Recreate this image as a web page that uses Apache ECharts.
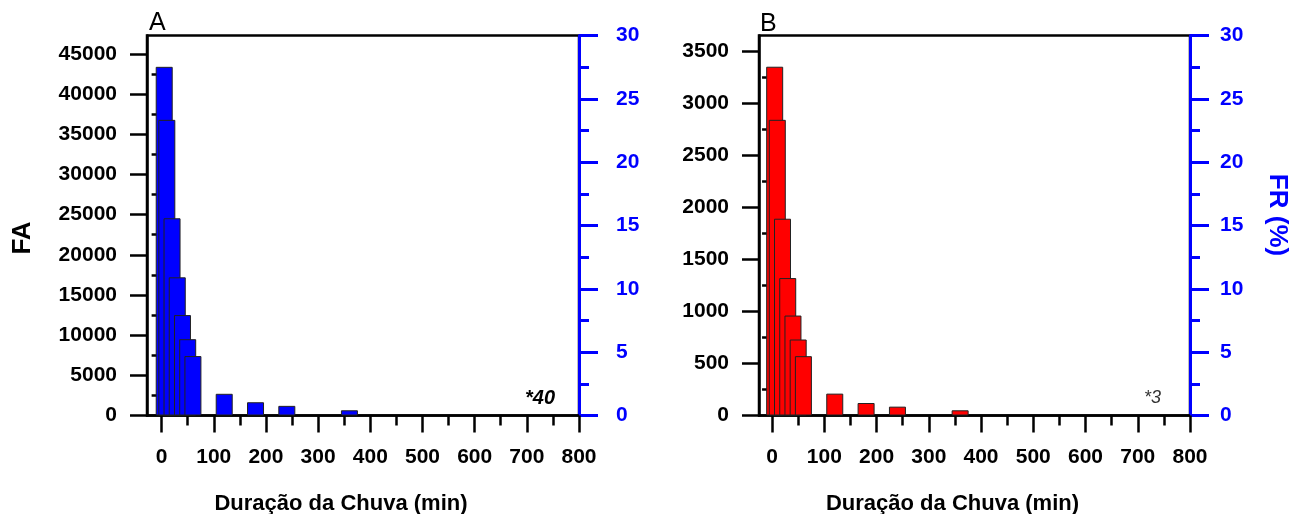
<!DOCTYPE html>
<html>
<head>
  <meta charset="utf-8">
  <script src="https://cdn.jsdelivr.net/npm/echarts@6/dist/echarts.min.js"></script>
</head>
<style>
  html, body { margin: 0; padding: 0; background: #fff; }
  #main { width: 1296px; height: 514px; }
</style>
<body>
  <div id="main"></div>
  <script>
    // duração da chuva (min) - centro das classes
    var duracao = [5, 10, 20, 30, 40, 50, 60, 120, 180, 240, 360];
    // frequência absoluta - painel A
    var faA = [43400, 36800, 24550, 17200, 12500, 9500, 7400, 2700, 1650, 1200, 650];
    // frequência absoluta - painel B
    var faB = [3350, 2840, 1890, 1320, 960, 730, 570, 210, 120, 85, 50];

    // eixos
    var xTicks = [0, 100, 200, 300, 400, 500, 600, 700, 800];
    var xMinor = [50, 150, 250, 350, 450, 550, 650, 750];
    var faTicksA = [0, 5000, 10000, 15000, 20000, 25000, 30000, 35000, 40000, 45000];
    var faMinorA = [2500, 7500, 12500, 17500, 22500, 27500, 32500, 37500, 42500];
    var faTicksB = [0, 500, 1000, 1500, 2000, 2500, 3000, 3500];
    var faMinorB = [250, 750, 1250, 1750, 2250, 2750, 3250];
    var frTicks = [0, 5, 10, 15, 20, 25, 30];

    var font = "'Liberation Sans', Arial, sans-serif";
    var black = '#000';
    var blue = '#0000ff';

    var chart = echarts.init(document.getElementById('main'));

    function pairs(ys) {
      return duracao.map(function (d, i) { return [d, ys[i]]; });
    }
    function plain(v) { return String(v); }

    function xAxes(grid, xmin) {
      return [{
        gridIndex: grid, type: 'value', position: 'bottom', min: xmin, max: 800,
        name: 'Duração da Chuva (min)', nameLocation: 'middle', nameGap: 77,
        nameTextStyle: { fontFamily: font, fontWeight: 'bold', fontSize: 22, color: black, padding: [0, 44, 0, 0] },
        axisLine: { show: true, onZero: false, lineStyle: { color: black, width: 2.5 } },
        axisTick: { show: true, length: 17, customValues: xTicks, lineStyle: { color: black, width: 2.5 } },
        axisLabel: { show: true, margin: 31, customValues: xTicks, formatter: plain, fontFamily: font, fontWeight: 'bold', fontSize: 21, color: black },
        splitLine: { show: false }
      }, {
        gridIndex: grid, type: 'value', position: 'bottom', min: xmin, max: 800,
        axisLine: { show: false },
        axisTick: { show: true, length: 10, customValues: xMinor, lineStyle: { color: black, width: 2.5 } },
        axisLabel: { show: false },
        splitLine: { show: false }
      }];
    }

    function yAxes(grid, ymax, ticks, minor, frMargin) {
      return [{
        gridIndex: grid, type: 'value', position: 'left', min: 0, max: ymax,
        axisLine: { show: true, onZero: false, lineStyle: { color: black, width: 2.5 } },
        axisTick: { show: true, length: 17, customValues: ticks, lineStyle: { color: black, width: 2.5 } },
        axisLabel: { show: true, margin: 30, customValues: ticks, formatter: plain, fontFamily: font, fontWeight: 'bold', fontSize: 21, color: black },
        splitLine: { show: false }
      }, {
        gridIndex: grid, type: 'value', position: 'left', min: 0, max: ymax,
        axisLine: { show: false },
        axisTick: { show: true, length: 10, customValues: minor, lineStyle: { color: black, width: 2.5 } },
        axisLabel: { show: false },
        splitLine: { show: false }
      }, {
        gridIndex: grid, type: 'value', position: 'right', min: 0, max: 30,
        axisLine: { show: true, onZero: false, lineStyle: { color: blue, width: 3 } },
        axisTick: { show: true, length: 19, customValues: frTicks, lineStyle: { color: blue, width: 3 } },
        minorTick: { show: true, splitNumber: 2, length: 10, lineStyle: { color: blue, width: 3 } },
        axisLabel: { show: true, margin: frMargin, customValues: frTicks, formatter: plain, fontFamily: font, fontWeight: 'bold', fontSize: 21, color: blue },
        splitLine: { show: false }
      }];
    }

    var option = {
      animation: false,
      backgroundColor: '#fff',
      grid: [
        { left: 147, top: 35.5, width: 432, height: 380, outerBoundsMode: 'none', containLabel: false,
          show: true, borderColor: black, borderWidth: 2.5, backgroundColor: 'transparent' },
        { left: 759, top: 35.5, width: 431, height: 380, outerBoundsMode: 'none', containLabel: false,
          show: true, borderColor: black, borderWidth: 2.5, backgroundColor: 'transparent' }
      ],
      xAxis: xAxes(0, -28).concat(xAxes(1, -25)),
      yAxis: yAxes(0, 47300, faTicksA, faMinorA, 37).concat(yAxes(1, 3650, faTicksB, faMinorB, 30)),
      series: [{
        type: 'bar', xAxisIndex: 0, yAxisIndex: 0, barWidth: 17, clip: false,
        itemStyle: { color: blue, borderColor: '#222', borderWidth: 1 },
        data: pairs(faA)
      }, {
        type: 'bar', xAxisIndex: 2, yAxisIndex: 3, barWidth: 17, clip: false,
        itemStyle: { color: '#ff0000', borderColor: '#222', borderWidth: 1 },
        data: pairs(faB)
      }],
      graphic: [
        { type: 'text', x: 23, y: 238, rotation: Math.PI / 2,
          style: { text: 'FA', fontFamily: font, fontWeight: 'bold', fontSize: 26, fill: black, align: 'center', verticalAlign: 'middle' } },
        { type: 'text', x: 1277, y: 215, rotation: -Math.PI / 2,
          style: { text: 'FR (%)', fontFamily: font, fontWeight: 'bold', fontSize: 26, fill: blue, align: 'center', verticalAlign: 'middle' } },
        { type: 'text', x: 149, y: 23,
          style: { text: 'A', fontFamily: font, fontSize: 25, fill: black, align: 'left', verticalAlign: 'middle' } },
        { type: 'text', x: 760, y: 24,
          style: { text: 'B', fontFamily: font, fontSize: 25, fill: black, align: 'left', verticalAlign: 'middle' } },
        { type: 'text', x: 555, y: 398,
          style: { text: '*40', fontFamily: font, fontWeight: 'bold', fontStyle: 'italic', fontSize: 20, fill: black, align: 'right', verticalAlign: 'middle' } },
        { type: 'text', x: 1144, y: 398,
          style: { text: '*3', fontFamily: font, fontStyle: 'italic', fontSize: 18, fill: '#333', align: 'left', verticalAlign: 'middle' } }
      ]
    };

    chart.setOption(option);
  </script>
</body>
</html>
